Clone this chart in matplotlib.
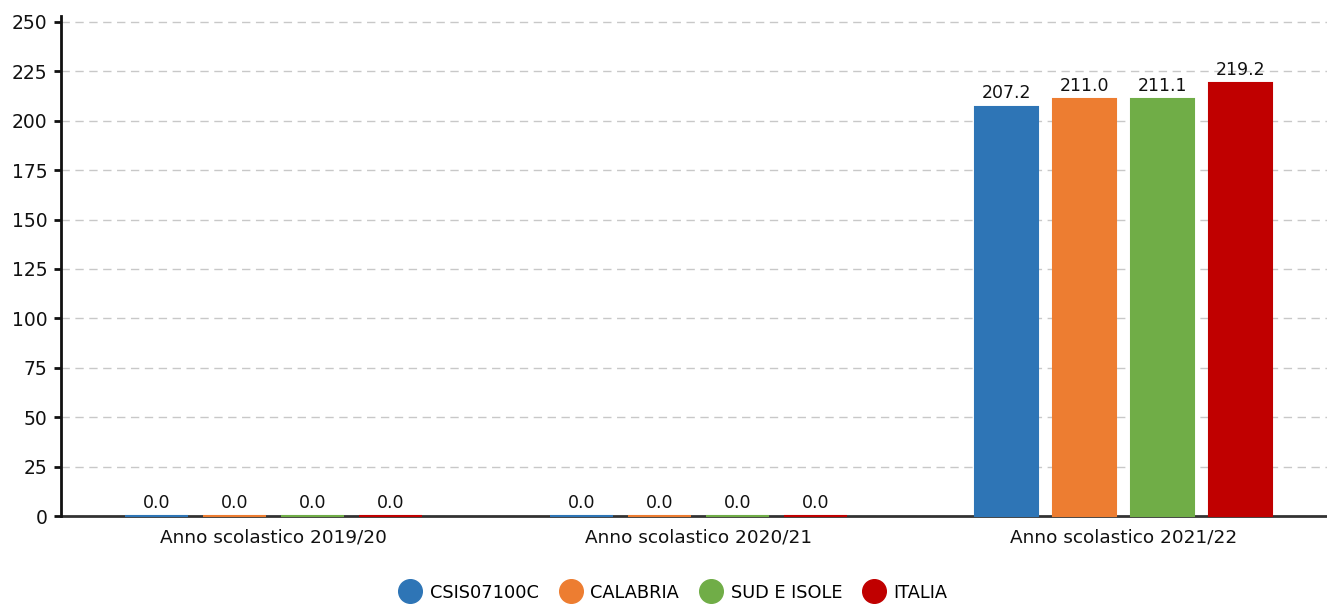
import numpy as np
import matplotlib
matplotlib.use("Agg")
import matplotlib.pyplot as plt
from matplotlib.lines import Line2D

anni = ["Anno scolastico 2019/20", "Anno scolastico 2020/21", "Anno scolastico 2021/22"]
serie = ["CSIS07100C", "CALABRIA", "SUD E ISOLE", "ITALIA"]
colori = ["#2e75b6", "#ed7d31", "#70ad47", "#c00000"]
valori = {
    "CSIS07100C": [0.0, 0.0, 207.2],
    "CALABRIA": [0.0, 0.0, 211.0],
    "SUD E ISOLE": [0.0, 0.0, 211.1],
    "ITALIA": [0.0, 0.0, 219.2],
}
yticks = [0, 25, 50, 75, 100, 125, 150, 175, 200, 225, 250]

plt.rcParams["font.family"] = ["DejaVu Sans"]

fig = plt.figure(figsize=(13.27, 6.06), dpi=100)
ax = fig.add_axes([0.046, 0.1485, 0.9608, 0.825])

x = np.arange(len(anni))
larghezza = 0.15
passo = 0.1835

for i, nome in enumerate(serie):
    off = (i - 1.5) * passo
    vals = valori[nome]
    barre = ax.bar(x + off, vals, width=larghezza, color=colori[i],
                   edgecolor=colori[i], linewidth=1.5, zorder=5)
    for b in barre:
        b.set_clip_on(False)
    for xi, v in zip(x, vals):
        ax.annotate(f"{v:.1f}", (xi + off, v), xytext=(0, 3),
                    textcoords="offset points", ha="center", va="bottom",
                    fontsize=12.5, color="#111111", zorder=6)

ax.set_xlim(-0.5, 2.5)
ax.set_ylim(0, 253)
ax.set_yticks(yticks)
ax.set_xticks(x)
ax.set_xticklabels(anni)

ax.grid(axis="y", color="#c8c8c8", linestyle=(0, (6, 4)), linewidth=1, zorder=0)
for s in ["top", "right"]:
    ax.spines[s].set_visible(False)
ax.spines["left"].set_linewidth(2)
ax.spines["left"].set_color("#111111")
ax.spines["bottom"].set_linewidth(2)
ax.spines["bottom"].set_color("#333333")
ax.spines["bottom"].set_zorder(2)
ax.set_axisbelow(True)

ax.tick_params(axis="y", length=5, width=2, labelsize=13.5, pad=5, colors="#111111")
ax.tick_params(axis="x", length=0, labelsize=13.3, pad=9, colors="#111111")

handles = [Line2D([0], [0], marker="o", linestyle="", markersize=17,
                  markerfacecolor=c, markeredgecolor=c) for c in colori]
fig.legend(handles, serie, loc="center", bbox_to_anchor=(0.505, 0.022),
           ncol=4, frameon=False, fontsize=12.8, handletextpad=0.1,
           columnspacing=0.8)

fig.savefig("out.png", dpi=100)
